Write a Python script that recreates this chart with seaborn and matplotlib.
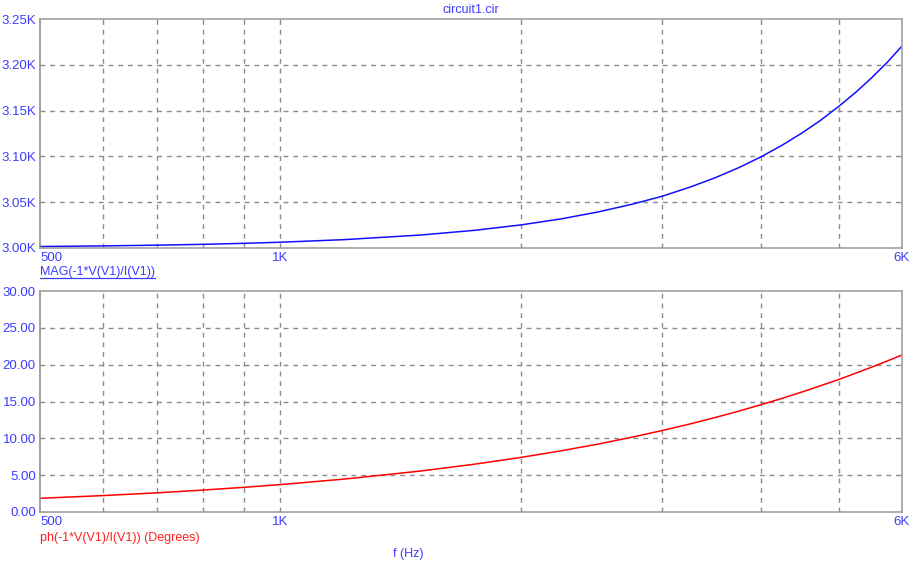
import matplotlib
matplotlib.use("Agg")
import matplotlib.pyplot as plt
from matplotlib.lines import Line2D
from matplotlib.ticker import FixedLocator, NullLocator, FuncFormatter
import pandas as pd
import seaborn as sns

# values
freq_hz = [500, 600, 700, 800, 900, 1000, 1200, 1500, 1750, 2000, 2250, 2500,
           2750, 3000, 3250, 3500, 3750, 4000, 4250, 4500, 4750, 5000,
           5250, 5500, 5750, 6000]
mag_ohm = [3001.6, 3002.3, 3003.1, 3004.0, 3005.1, 3006.3, 3009.1, 3014.2,
           3019.3, 3025.2, 3031.9, 3039.4, 3047.6, 3056.3, 3066.2, 3076.6,
           3087.8, 3099.7, 3112.4, 3125.7, 3139.7, 3154.6, 3169.9, 3186.0,
           3202.7, 3220.5]
phase_deg = [1.86, 2.23, 2.60, 2.98, 3.35, 3.72, 4.46, 5.57, 6.49, 7.41, 8.32,
             9.23, 10.14, 11.04, 11.93, 12.82, 13.70, 14.58, 15.44, 16.30,
             17.16, 17.99, 18.84, 19.67, 20.50, 21.31]

grid_freqs = [600, 700, 800, 900, 1000, 2000, 3000, 4000, 5000]
x_ticks = [500, 1000, 6000]
x_ticklabels = ["500", "1K", "6K"]
mag_ticks = [3000, 3050, 3100, 3150, 3200, 3250]
phase_ticks = [0, 5, 10, 15, 20, 25, 30]

title = "circuit1.cir"
mag_label = "MAG(-1*V(V1)/I(V1))"
phase_label = "ph(-1*V(V1)/I(V1)) (Degrees)"
x_label = "f (Hz)"

df = pd.DataFrame({"f": freq_hz, "mag": mag_ohm, "ph": phase_deg})

sns.set_style("white")
plt.rcParams["font.family"] = ["Liberation Sans", "DejaVu Sans"]
plt.rcParams["font.size"] = 9

BLUE = "#3c3cff"
RED = "#ff2020"
GRAY = "#8c8c8c"

W, H = 916, 567
fig = plt.figure(figsize=(W / 100, H / 100), dpi=100)


def box(x0, y0, x1, y1):
    return [x0 / W, 1 - y1 / H, (x1 - x0) / W, (y1 - y0) / H]


ax1 = fig.add_axes(box(40, 19, 902, 248))
ax2 = fig.add_axes(box(40, 291, 902, 512))

sns.lineplot(data=df, x="f", y="mag", ax=ax1, color="#1010ff", linewidth=1.1)
sns.lineplot(data=df, x="f", y="ph", ax=ax2, color="#ff0000", linewidth=1.1)

for ax, yticks, fmt in [
    (ax1, mag_ticks, lambda v, p: f"{v / 1000:.2f}K"),
    (ax2, phase_ticks, lambda v, p: f"{v:.2f}"),
]:
    ax.set_xscale("log")
    ax.set_xlim(500, 6000)
    ax.set_ylim(yticks[0], yticks[-1])
    ax.xaxis.set_major_locator(FixedLocator(x_ticks))
    ax.xaxis.set_minor_locator(NullLocator())
    ax.set_xticklabels(x_ticklabels)
    ax.yaxis.set_major_locator(FixedLocator(yticks))
    ax.yaxis.set_major_formatter(FuncFormatter(fmt))
    ax.tick_params(axis="both", length=0, pad=3, labelcolor=BLUE, labelsize=9.5)
    ax.set_xlabel("")
    ax.set_ylabel("")
    for v in grid_freqs:
        ax.axvline(v, color=GRAY, lw=1, ls=(0, (3.5, 3.5)), zorder=0)
    for v in yticks[1:-1]:
        ax.axhline(v, color=GRAY, lw=1, ls=(0, (3.5, 3.5)), zorder=0)
    for s in ax.spines.values():
        s.set_color("#a0a0a0")
        s.set_linewidth(1.2)
    ax.spines["left"].set_color("#909090")
    lbls = ax.get_xticklabels()
    lbls[0].set_horizontalalignment("left")

fig.text(471 / W, 1 - 10 / H, title, color=BLUE, ha="center", va="center", fontsize=9)
t_mag = fig.text(40 / W, 1 - 272 / H, mag_label, color=BLUE, ha="left", va="center", fontsize=9)
fig.text(40 / W, 1 - 538 / H, phase_label, color=RED, ha="left", va="center", fontsize=9)
fig.text(408 / W, 1 - 554 / H, x_label, color=BLUE, ha="center", va="center", fontsize=9)

# underline the magnitude label
fig.canvas.draw()
bb = t_mag.get_window_extent().transformed(fig.transFigure.inverted())
fig.add_artist(Line2D([bb.x0, bb.x1], [bb.y0 + 0.5 / H, bb.y0 + 0.5 / H],
                      color=BLUE, lw=0.9, transform=fig.transFigure))

fig.savefig("out.png", dpi=100)
